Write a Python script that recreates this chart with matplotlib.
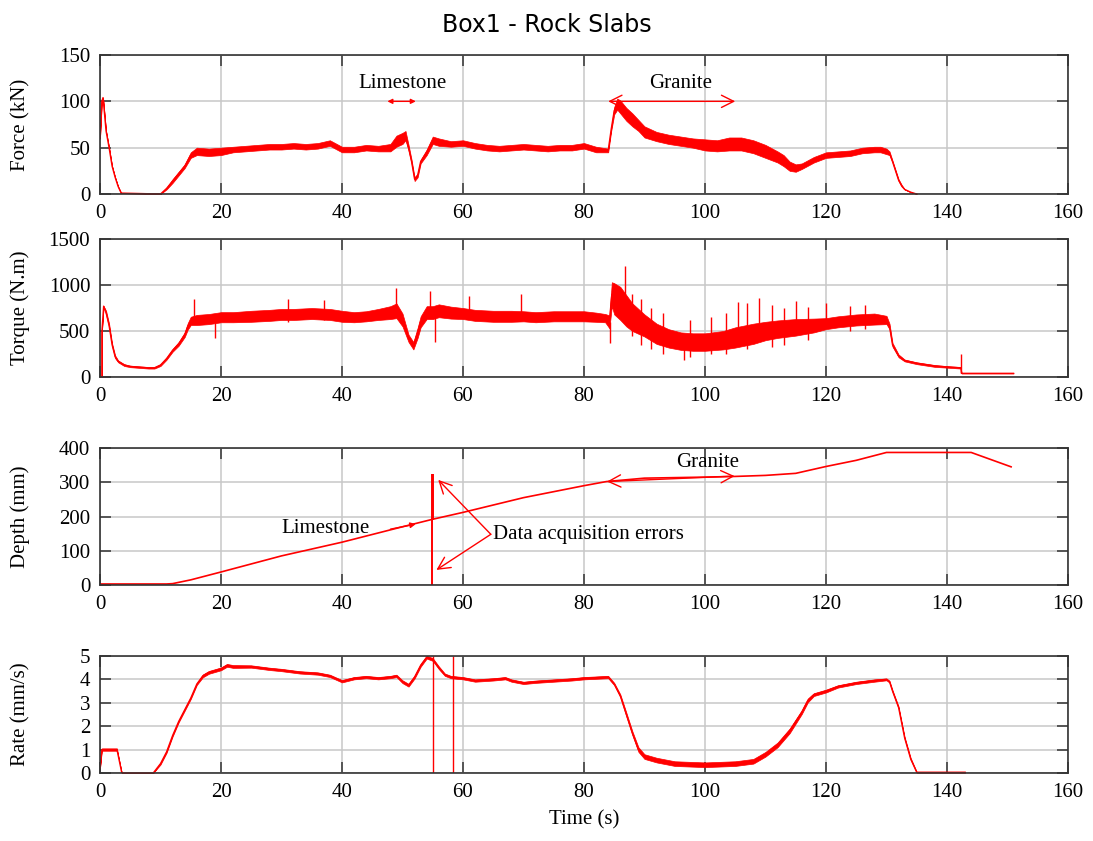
#!/usr/bin/env python3
"""Box1 - Rock Slabs: force, torque, depth and rate against time."""
import matplotlib

matplotlib.use("Agg")
import matplotlib.pyplot as plt

# ---- Force (kN): time, mean trace, half-width of the noise band ----
force_t = [0, 0.3, 0.5, 1, 1.5, 2, 2.5, 3, 3.5, 10,
           11, 12, 13, 14, 15, 16, 18, 20, 22, 24,
           26, 28, 30, 32, 34, 36, 38, 40, 42, 44,
           46, 48, 49, 50, 50.5, 51, 51.5, 52, 52.5, 53,
           54, 55, 56, 58, 60, 62, 64, 66, 68, 70,
           72, 74, 76, 78, 80, 82, 84, 84.5, 85, 85.5,
           86, 87, 88, 89, 90, 92, 94, 96, 98, 100,
           102, 104, 106, 108, 110, 112, 113, 114, 115, 116,
           118, 120, 122, 124, 126, 128, 129, 130, 130.5, 131,
           131.5, 132, 132.5, 133, 134, 135]
force_mid = [60, 100, 104, 68, 50, 30, 18, 8, 1, 0,
             6, 14, 22, 30, 42, 46, 45, 46, 48, 49,
             50, 51, 51, 52, 51, 52, 55, 48, 48, 50,
             49, 50, 57, 60, 63, 50, 35, 16, 20, 35,
             45, 58, 56, 54, 55, 52, 50, 49, 50, 51,
             50, 49, 50, 50, 52, 48, 47, 70, 90, 97,
             94, 86, 80, 74, 67, 62, 59, 57, 55, 53,
             52, 54, 54, 51, 46, 40, 36, 30, 28, 30,
             37, 42, 43, 44, 47, 48, 48, 46, 44, 35,
             25, 15, 9, 5, 2, 0]
force_noise = [0, 0, 0, 0, 0, 0, 0, 0, 0, 0,
               1, 2, 2, 2, 3, 4, 4, 4, 3, 3,
               3, 3, 3, 3, 3, 3, 3, 3, 3, 3,
               3, 4, 6, 6, 5, 3, 2, 2, 2, 2,
               3, 4, 4, 3, 3, 3, 3, 3, 3, 3,
               3, 3, 3, 3, 3, 3, 2, 2, 4, 6,
               7, 7, 7, 6, 6, 5, 5, 5, 5, 6,
               6, 7, 7, 7, 7, 6, 6, 5, 4, 3,
               3, 3, 3, 3, 3, 3, 3, 3, 2, 1,
               1, 1, 1, 0, 0, 0]

# ---- Torque (N.m) ----
torque_t = [0.3, 0.3, 0.6, 1, 1.5, 2, 2.5, 3, 4, 5,
            6, 8, 9, 10, 11, 12, 13, 14, 14.5, 15,
            16, 18, 20, 22, 25, 28, 30, 32, 35, 38,
            40, 42, 44, 46, 48, 49, 50, 51, 51.8, 52.5,
            53, 54, 55, 56, 58, 60, 62, 65, 68, 70,
            72, 75, 78, 80, 82, 83.5, 84.2, 84.6, 85, 86,
            87, 88, 90, 92, 94, 96, 98, 100, 103, 105,
            108, 110, 112, 115, 118, 120, 122, 125, 128, 130,
            130.5, 131, 132, 133, 135, 138, 140, 142.3, 142.4, 151]
torque_mid = [0, 480, 770, 700, 560, 350, 220, 170, 130, 115,
              110, 100, 100, 130, 200, 290, 360, 460, 550, 610,
              620, 630, 650, 650, 660, 670, 680, 680, 690, 680,
              660, 650, 660, 680, 700, 720, 620, 420, 340, 480,
              600, 700, 700, 720, 700, 690, 670, 660, 660, 660,
              650, 660, 660, 660, 650, 640, 600, 900, 850, 800,
              720, 650, 560, 470, 420, 390, 380, 380, 400, 430,
              470, 500, 520, 540, 560, 580, 600, 620, 630, 620,
              550, 350, 230, 180, 150, 120, 110, 100, 40, 40]
torque_noise = [0, 0, 0, 20, 20, 15, 15, 10, 10, 8,
                8, 8, 8, 10, 12, 15, 20, 25, 35, 45,
                55, 55, 55, 55, 60, 60, 60, 60, 60, 60,
                60, 55, 55, 60, 70, 80, 70, 40, 40, 55,
                60, 70, 70, 70, 65, 60, 60, 60, 60, 55,
                55, 55, 55, 55, 50, 45, 70, 130, 170, 180,
                170, 150, 120, 110, 100, 95, 95, 95, 100, 110,
                110, 100, 95, 90, 75, 60, 60, 60, 60, 45,
                30, 20, 15, 10, 10, 10, 8, 8, 0, 0]
# isolated spikes: time, low end, high end
torque_spike_t = [15.5, 19, 31, 37, 49, 54.5, 55.3, 61, 69.6, 84.3,
                  86.7, 88, 89.5, 91, 93, 96.5, 97.5, 101, 103.5, 105.5,
                  107, 109, 111, 113, 115, 117, 120, 124, 126.5, 142.4]
torque_spike_lo = [600, 420, 600, 620, 700, 700, 380, 700, 650, 370,
                   800, 450, 350, 300, 250, 190, 220, 250, 250, 500,
                   300, 500, 330, 350, 550, 400, 580, 500, 520, 40]
torque_spike_hi = [850, 650, 850, 840, 970, 930, 700, 880, 900, 600,
                   1210, 900, 850, 750, 700, 400, 620, 650, 700, 820,
                   800, 860, 780, 750, 830, 760, 800, 770, 780, 250]

# ---- Depth (mm) ----
depth_t = [0, 11, 12, 15, 20, 30, 40, 50, 55, 60,
           70, 80, 83.7, 90, 100, 105, 110, 115, 120, 125,
           130, 144, 150.6]
depth_mm = [3, 3, 4, 15, 38, 85, 125, 170, 192, 212,
            255, 290, 302, 312, 315, 317, 320, 326, 346, 364,
            387, 387, 345]
depth_err_t = [54.95, 55.1]
depth_err_lo = [0, 190]
depth_err_hi = [325, 325]

# ---- Rate (mm/s) ----
rate_t = [0, 0.3, 1, 2, 2.8, 3.2, 3.6, 8.8, 10, 11,
          12, 13, 14, 15, 16, 17, 18, 20, 21, 22,
          25, 28, 30, 33, 36, 38, 40, 42, 44, 46,
          48, 49, 50, 51, 52, 53, 54, 55, 56, 57,
          58, 60, 62, 65, 67, 68, 70, 72, 75, 78,
          80, 84, 85, 86, 87, 88, 89, 90, 92, 95,
          100, 105, 108, 110, 112, 114, 116, 117, 118, 120,
          122, 125, 128, 130, 130.5, 131, 132, 133, 134, 135,
          140, 143]
rate_mid = [0.2, 1.0, 1.0, 1.0, 1.0, 0.5, 0, 0, 0.4, 0.9,
            1.6, 2.2, 2.7, 3.2, 3.8, 4.15, 4.3, 4.45, 4.6, 4.55,
            4.55, 4.45, 4.4, 4.3, 4.25, 4.15, 3.92, 4.05, 4.1, 4.05,
            4.1, 4.15, 3.9, 3.75, 4.1, 4.6, 4.95, 4.85, 4.5, 4.2,
            4.1, 4.05, 3.95, 4.0, 4.05, 3.95, 3.85, 3.9, 3.95, 4.0,
            4.05, 4.1, 3.8, 3.3, 2.5, 1.7, 1.0, 0.7, 0.55, 0.4,
            0.35, 0.4, 0.5, 0.8, 1.2, 1.8, 2.6, 3.1, 3.35, 3.5,
            3.7, 3.85, 3.95, 4.0, 3.9, 3.5, 2.8, 1.5, 0.6, 0.03,
            0.03, 0.03]
rate_noise = [0, 0.05, 0.05, 0.05, 0.05, 0, 0, 0, 0.04, 0.04,
              0.04, 0.04, 0.04, 0.04, 0.04, 0.06, 0.06, 0.06, 0.06, 0.06,
              0.05, 0.05, 0.05, 0.05, 0.05, 0.05, 0.05, 0.05, 0.05, 0.05,
              0.05, 0.05, 0.06, 0.06, 0.06, 0.06, 0.06, 0.06, 0.06, 0.05,
              0.05, 0.05, 0.05, 0.05, 0.05, 0.05, 0.05, 0.05, 0.05, 0.05,
              0.05, 0.05, 0.05, 0.06, 0.08, 0.08, 0.1, 0.1, 0.1, 0.1,
              0.1, 0.1, 0.1, 0.1, 0.1, 0.1, 0.08, 0.08, 0.06, 0.06,
              0.05, 0.05, 0.05, 0.04, 0.04, 0.04, 0.04, 0.04, 0.04, 0.02,
              0.02, 0.02]
rate_err_t = [55.0, 58.3]
rate_err_lo = [0, 0]
rate_err_hi = [5, 5]

RED = "#ff0000"
SERIF = "Liberation Serif"
plt.rcParams["font.family"] = SERIF
plt.rcParams["font.size"] = 15


def band(ax, t, mid, noise):
    lo = [m - n for m, n in zip(mid, noise)]
    hi = [m + n for m, n in zip(mid, noise)]
    ax.fill_between(t, lo, hi, color=RED, lw=0.5)
    ax.plot(t, mid, color=RED, lw=1.0)


def style(ax, ylim, yticks, ylabel):
    ax.set_xlim(0, 160)
    ax.set_ylim(*ylim)
    ax.set_xticks(range(0, 161, 20))
    ax.set_yticks(yticks)
    ax.grid(True, color="#c8c8c8", lw=1.1)
    ax.set_axisbelow(True)
    ax.tick_params(direction="in", length=8, width=1.1, color="#333333",
                   top=True, right=True, labelsize=15, pad=7)
    for s in ax.spines.values():
        s.set_color("#333333")
        s.set_linewidth(1.2)
    ax.set_ylabel(ylabel, fontsize=15)
    ax.yaxis.set_label_coords(-0.072, 0.5)


fig = plt.figure(figsize=(10.93, 8.41), dpi=100)
L, W = 0.0915, 0.8856
ax1 = fig.add_axes([L, 0.7693, W, 0.1653])
ax2 = fig.add_axes([L, 0.5517, W, 0.1641])
ax3 = fig.add_axes([L, 0.3044, W, 0.1629])
ax4 = fig.add_axes([L, 0.0809, W, 0.1391])

# Force
band(ax1, force_t, force_mid, force_noise)
ax1.plot([3.5, 10], [0, 0], color=RED, lw=1.1)
style(ax1, (0, 150), [0, 50, 100, 150], "Force (kN)")
ax1.text(50, 119, "Limestone", ha="center", va="center", fontsize=15)
ax1.annotate("", xy=(47.5, 100), xytext=(52.2, 100),
             arrowprops=dict(arrowstyle="<|-|>", color=RED, lw=1,
                             mutation_scale=7, shrinkA=0, shrinkB=0))
ax1.text(96, 119, "Granite", ha="center", va="center", fontsize=15)
ax1.annotate("", xy=(84, 100), xytext=(105, 100),
             arrowprops=dict(arrowstyle="<->", color=RED, lw=1,
                             mutation_scale=22, shrinkA=0, shrinkB=0))

# Torque
band(ax2, torque_t, torque_mid, torque_noise)
ax2.vlines(torque_spike_t, torque_spike_lo, torque_spike_hi, color=RED, lw=1)
style(ax2, (0, 1500), [0, 500, 1000, 1500], "Torque (N.m)")

# Depth
ax3.plot(depth_t, depth_mm, color=RED, lw=1.2)
ax3.vlines(depth_err_t, depth_err_lo, depth_err_hi, color=RED, lw=1.4)
style(ax3, (0, 400), [0, 100, 200, 300, 400], "Depth (mm)")
ax3.text(37.3, 166, "Limestone", ha="center", va="center", fontsize=15)
ax3.annotate("", xy=(52.2, 178), xytext=(48, 163),
             arrowprops=dict(arrowstyle="-|>", color=RED, lw=1,
                             mutation_scale=8, shrinkA=0, shrinkB=0))
ax3.text(100.5, 358, "Granite", ha="center", va="center", fontsize=15)
ax3.annotate("", xy=(83.8, 302), xytext=(104.9, 318),
             arrowprops=dict(arrowstyle="<->", color=RED, lw=1,
                             mutation_scale=22, shrinkA=0, shrinkB=0))
ax3.text(65, 148, "Data acquisition errors", ha="left", va="center",
         fontsize=15)
for tip in [(55.9, 307), (55.6, 44)]:
    ax3.annotate("", xy=tip, xytext=(64.6, 148),
                 arrowprops=dict(arrowstyle="->", color=RED, lw=1,
                                 mutation_scale=22, shrinkA=0, shrinkB=0))

# Rate
band(ax4, rate_t, rate_mid, rate_noise)
ax4.vlines(rate_err_t, rate_err_lo, rate_err_hi, color=RED, lw=1)
style(ax4, (0, 5), [0, 1, 2, 3, 4, 5], "Rate (mm/s)")
ax4.set_xlabel("Time (s)", fontsize=15, labelpad=6)

fig.suptitle("Box1 - Rock Slabs", x=0.5, y=0.985, fontsize=17,
             family="DejaVu Sans")

fig.savefig("out.png", dpi=100)
